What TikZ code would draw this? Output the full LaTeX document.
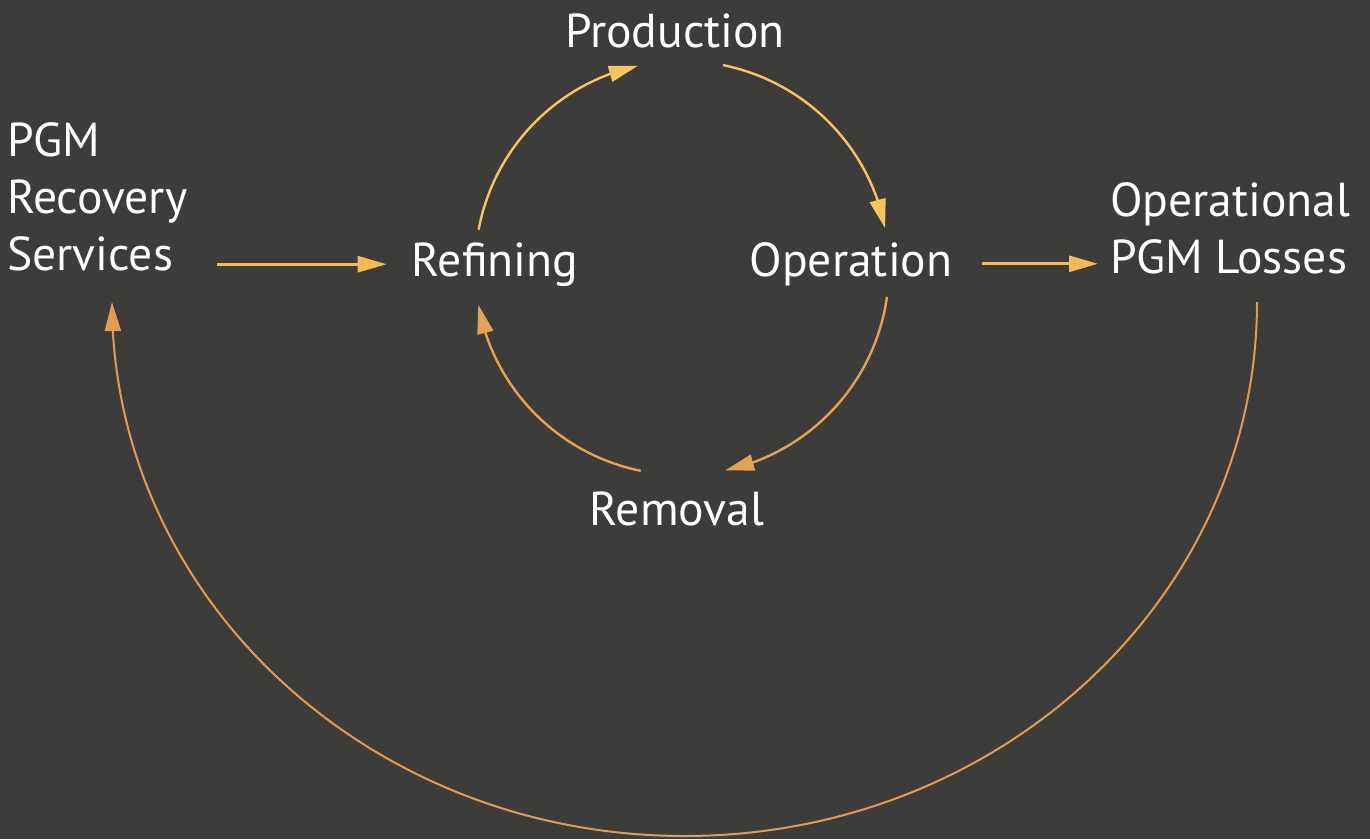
\documentclass[tikz,border=0pt]{standalone}
\usepackage{fontspec}
\setmainfont{PT Sans}
\usetikzlibrary{arrows.meta,bending}
\definecolor{bg}{RGB}{60,60,59}
\definecolor{arrY}{RGB}{248,196,92}
\definecolor{arrO}{RGB}{228,162,84}
\definecolor{arrS}{RGB}{246,186,82}
\definecolor{arrB}{RGB}{226,156,80}
\begin{document}
\begin{tikzpicture}[x=1pt,y=1pt,
  lbl/.style={text=white,inner sep=0pt,font=\fontsize{47.6}{57}\selectfont},
  tipped/.style={-{Triangle[length=29pt,width=16pt]}},
  cyc arrow/.style={tipped,line width=2.4pt},
  straight/.style={tipped,arrS,line width=3pt},
  big arrow/.style={tipped,arrB,line width=2pt},
 ]
\fill[bg] (0,0) rectangle (1370,-839);
\useasboundingbox (0,0) rectangle (1370,-839);
% labels
\node[lbl,anchor=base] (prod) at (675,-47) {Production};
\node[lbl,anchor=base] (ref) at (495,-276) {Refining};
\node[lbl,anchor=base] (op) at (851,-276) {Operation};
\node[lbl,anchor=base] (rem) at (677,-525) {Removal};
\node[lbl,align=left,anchor=north west] (rec) at (7,-122) {PGM\\Recovery\\Services};
\node[lbl,align=left,anchor=north west] (los) at (1110,-182) {Operational\\PGM Losses};
% cycle
\coordinate (cyc) at (682,-268);
\draw[cyc arrow,arrY] ([shift={(169.3:207pt)}]cyc) arc[start angle=169.3,end angle=102.3,radius=207pt];
\draw[cyc arrow,arrY] ([shift={(78.6:207pt)}]cyc) arc[start angle=78.6,end angle=11.1,radius=207pt];
\draw[cyc arrow,arrO] ([shift={(-8:207pt)}]cyc) arc[start angle=-8,end angle=-78,radius=207pt];
\draw[cyc arrow,arrO] ([shift={(-101.5:207pt)}]cyc) arc[start angle=-101.5,end angle=-169.8,radius=207pt];
% straight arrows
\draw[straight] ([xshift=30pt]rec.east |- ref.west) -- ([xshift=-25pt]ref.west);
\draw[straight] ([xshift=29pt]op.east) -- ([xshift=-12pt]op.east -| los.west);
% big return arc
\coordinate (bigR) at (1257,-302);
\draw[big arrow] (bigR) arc[start angle=0,end angle=-180,x radius=572.5pt,y radius=534pt];
\end{tikzpicture}
\end{document}
